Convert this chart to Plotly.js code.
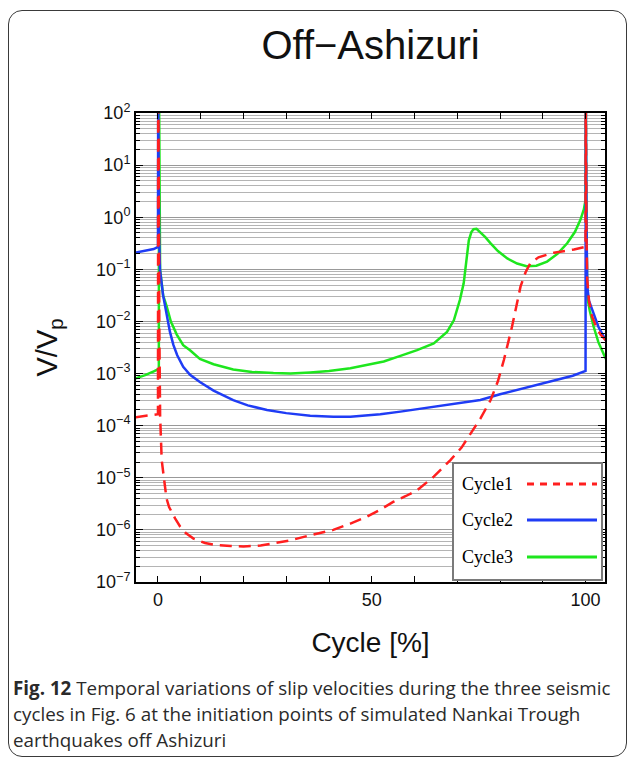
<!DOCTYPE html>
<html>
<head>
<meta charset="utf-8">
<script src="https://cdn.plot.ly/plotly-3.0.1.min.js"></script>
<style>
  html, body { margin: 0; padding: 0; background: #fff; }
  #wrap { position: relative; width: 629px; height: 759px; overflow: hidden; }
  #frame { position: absolute; left: 8px; top: 10px; width: 617px; height: 745px;
           border: 1.5px solid #3a3a3a; border-radius: 14px; pointer-events: none; }
  #chart { position: absolute; left: 0; top: 0; width: 629px; height: 759px; }
</style>
</head>
<body>
<div id="wrap">
  <div id="chart"></div>
  <div id="frame"></div>
</div>
<script>
// ---- data (Cycle in %, V/Vp) ----
const seriesNames = ['Cycle1', 'Cycle2', 'Cycle3'];

const xCycle1 = [-5.2, -4, -2, -1, 0, 0.05, 0.15, 0.3, 0.5, 0.87, 1.3, 1.64, 2.0, 2.6, 4, 5.2, 6.5, 8.3, 11, 13.7,
  17, 20, 24, 27, 31, 35.6, 41, 45, 48.8, 52, 55.1, 58, 60.6, 64.5, 68.4, 71, 73.1, 75.5, 77.8, 79.5,
  80.9, 82.8, 84.8, 86, 87.1, 89, 92.6, 97.3, 100, 100.05, 100.2, 100.4, 100.8, 101.5, 102.5, 103.5, 104.7, 105.5];
const vCycle1 = [1.45e-4, 1.51e-4, 1.58e-4, 1.62e-4, 1.66e-4, 300, 31.6, 0.01, 1.58e-4, 2.19e-5, 1.0e-5, 6.8e-6, 4.0e-6, 2.75e-6, 1.66e-6, 1.15e-6, 8.7e-7, 6.8e-7, 5.6e-7, 5.1e-7,
  4.9e-7, 4.8e-7, 5.0e-7, 5.5e-7, 6.3e-7, 7.9e-7, 1.0e-6, 1.32e-6, 1.78e-6, 2.45e-6, 3.47e-6, 4.47e-6, 5.75e-6, 1.05e-5, 2.19e-5, 3.8e-5, 7.1e-5, 1.41e-4, 3.1e-4, 7.1e-4,
  1.82e-3, 7.9e-3, 0.047, 0.089, 0.132, 0.17, 0.209, 0.24, 0.27, 300, 0.5, 0.063, 0.025, 0.0126, 0.0079, 0.0056, 0.0044, 0.0039];

const xCycle2 = [-5.2, -3, -1, 0, 0.05, 0.25, 0.47, 1.2, 2.0, 2.8, 3.6, 4.5, 5.9, 7.5, 9.8, 13, 17.6, 21, 25.5, 30,
  35.6, 41, 45, 48.8, 52, 56.7, 60, 64.5, 69, 73.1, 75.4, 80, 85.6, 90, 93.4, 97, 100, 100.05, 100.25, 100.4,
  100.8, 101.9, 103, 104.7, 105.5];
const vCycle2 = [0.209, 0.224, 0.245, 0.269, 300, 0.5, 0.098, 0.0316, 0.0141, 0.0063, 0.00355, 0.00224, 0.00135, 9.5e-4, 6.9e-4, 4.7e-4, 3.1e-4, 2.45e-4, 2.0e-4, 1.74e-4,
  1.55e-4, 1.48e-4, 1.48e-4, 1.55e-4, 1.66e-4, 1.86e-4, 2.04e-4, 2.29e-4, 2.57e-4, 2.88e-4, 3.1e-4, 4.0e-4, 5.25e-4, 6.5e-4, 7.6e-4, 9.1e-4, 1.12e-3, 300, 0.5, 0.047,
  0.025, 0.0141, 0.0079, 0.0044, 0.0035];

const xCycle3 = [-5.2, -3, -1, 0.2, 0.25, 0.4, 0.5, 1.2, 2.0, 3, 4.4, 5.9, 7.5, 9.8, 13, 17.6, 22, 27, 31, 35.6,
  40, 45, 49, 52.8, 56.7, 60.6, 64.5, 66, 67.6, 69.2, 70.6, 71.5, 72.2, 72.7, 73.3, 73.8, 74.5, 75.4, 76.5, 77.8,
  79.5, 81.7, 84, 86.2, 88.5, 91, 93.5, 95.7, 97.5, 98.8, 99.6, 100, 100.05, 100.2, 100.4, 101, 101.9, 103, 104.7, 105.5];
const vCycle3 = [8.1e-4, 9.3e-4, 1.1e-3, 1.23e-3, 300, 1.0, 0.1, 0.0316, 0.02, 0.01, 5.6e-3, 3.5e-3, 2.8e-3, 1.9e-3, 1.51e-3, 1.2e-3, 1.07e-3, 1.02e-3, 1.0e-3, 1.05e-3,
  1.12e-3, 1.26e-3, 1.45e-3, 1.7e-3, 2.19e-3, 2.82e-3, 3.8e-3, 4.9e-3, 6.3e-3, 0.0105, 0.0257, 0.054, 0.158, 0.36, 0.52, 0.59, 0.6, 0.52, 0.42, 0.316,
  0.224, 0.162, 0.129, 0.115, 0.117, 0.141, 0.2, 0.316, 0.52, 0.89, 1.41, 2.14, 300, 1.0, 0.0295, 0.0158, 0.0079, 0.004, 0.00195, 0.00166];

const xTickVals = [0, 50, 100];
const xTickText = ['0', '50', '100'];
const yTickVals = [1e-7, 1e-6, 1e-5, 1e-4, 1e-3, 1e-2, 1e-1, 1e0, 1e1, 1e2];
const yTickText = ['10<sup>−7</sup>', '10<sup>−6</sup>', '10<sup>−5</sup>', '10<sup>−4</sup>', '10<sup>−3</sup>',
  '10<sup>−2</sup>', '10<sup>−1</sup>', '10<sup>0</sup>', '10<sup>1</sup>', '10<sup>2</sup>'];

const captionLines = [
  '<b>Fig. 12</b> Temporal variations of slip velocities during the three seismic',
  'cycles in Fig. 6 at the initiation points of simulated Nankai Trough',
  'earthquakes off Ashizuri'
];

// ---- styles ----
const colors = { Cycle1: '#ff1f1f', Cycle2: '#1f3cf5', Cycle3: '#1ee61e' };
const dashes = { Cycle1: '12px,7px', Cycle2: 'solid', Cycle3: 'solid' };
const legendDashes = { Cycle1: '7px,6px', Cycle2: 'solid', Cycle3: 'solid' };
const sans = 'Liberation Sans, Arial, Helvetica, sans-serif';

const xs = { Cycle1: xCycle1, Cycle2: xCycle2, Cycle3: xCycle3 };
const vs = { Cycle1: vCycle1, Cycle2: vCycle2, Cycle3: vCycle3 };

// draw order: Cycle3 underneath, Cycle1 on top
const traces = ['Cycle3', 'Cycle2', 'Cycle1'].map(n => ({
  type: 'scatter', mode: 'lines', name: n,
  x: xs[n], y: vs[n],
  line: { color: colors[n], width: 2.5, dash: dashes[n] },
  showlegend: false, hoverinfo: 'skip'
}));

// pixel helpers for paper coords (plot area 136..605 x 113..582)
const L = 136, R = 24, T = 113, B = 177, W = 629, H = 759;
const pw = W - L - R, ph = H - T - B;
const px = v => (v - L) / pw;
const py = v => (H - B - v) / ph;

// custom legend (text left, sample right), built from the series
const shapes = [{
  type: 'rect', xref: 'paper', yref: 'paper', layer: 'above',
  x0: px(453), x1: px(602), y0: py(580), y1: py(463),
  line: { color: '#7a7a7a', width: 2 }, fillcolor: '#ffffff'
}];
const annotations = [];
const rowY = [484, 520, 557];
seriesNames.forEach((n, i) => {
  shapes.push({
    type: 'line', xref: 'paper', yref: 'paper', layer: 'above',
    x0: px(527), x1: px(597), y0: py(rowY[i]), y1: py(rowY[i]),
    line: { color: colors[n], width: 3, dash: legendDashes[n] }
  });
  annotations.push({
    xref: 'paper', yref: 'paper', x: px(460), y: py(rowY[i]),
    xanchor: 'left', yanchor: 'middle', showarrow: false, text: n,
    font: { family: 'Liberation Serif, Times New Roman, serif', size: 18, color: '#000' }
  });
});
const capY = [688, 714, 740];
captionLines.forEach((t, i) => {
  annotations.push({
    xref: 'paper', yref: 'paper', x: px(11), y: py(capY[i]),
    xanchor: 'left', yanchor: 'middle', showarrow: false, text: t, align: 'left',
    font: { family: 'Open Sans, Noto Sans, sans-serif', size: 18.8, color: '#2a2a2a' }
  });
});

const layout = {
  width: W, height: H,
  margin: { l: L, r: R, t: T, b: B, pad: 0 },
  paper_bgcolor: 'rgba(0,0,0,0)', plot_bgcolor: '#ffffff',
  showlegend: false,
  title: {
    text: 'Off−Ashizuri', x: 0.5, xref: 'paper', xanchor: 'center',
    y: 1 - 45 / H, yref: 'container', yanchor: 'middle',
    font: { family: sans, size: 40, color: '#111' }
  },
  xaxis: {
    range: [-5.14, 104.55], autorange: false,
    tickmode: 'array', tickvals: xTickVals, ticktext: xTickText,
    ticks: 'inside', ticklen: 6, tickwidth: 1, tickcolor: '#000',
    minor: { dtick: 10, ticks: 'inside', ticklen: 6, tickwidth: 1, tickcolor: '#000', showgrid: false },
    showgrid: false, zeroline: false,
    showline: true, linecolor: '#000', linewidth: 2, mirror: 'allticks',
    tickfont: { family: sans, size: 18, color: '#111' },
    title: { text: 'Cycle [%]', font: { family: sans, size: 28, color: '#111' }, standoff: 24 },
    automargin: false
  },
  yaxis: {
    type: 'log', range: [-7, 2], autorange: false,
    tickmode: 'array', tickvals: yTickVals, ticktext: yTickText,
    ticks: 'inside', ticklen: 7, tickwidth: 1, tickcolor: '#000',
    showgrid: true, gridcolor: '#999999', gridwidth: 1,
    minor: { dtick: 'D1', ticks: 'inside', ticklen: 4, tickcolor: '#000', showgrid: true, gridcolor: '#b4b4b4', gridwidth: 1 },
    zeroline: false,
    showline: true, linecolor: '#000', linewidth: 2, mirror: 'allticks',
    tickfont: { family: sans, size: 18, color: '#111' },
    title: { text: 'V/V<sub>p</sub>', font: { family: sans, size: 29, color: '#111' }, standoff: 30 },
    automargin: false
  },
  shapes: shapes,
  annotations: annotations
};

Plotly.newPlot('chart', traces, layout, { staticPlot: true, displayModeBar: false });
</script>
</body>
</html>
